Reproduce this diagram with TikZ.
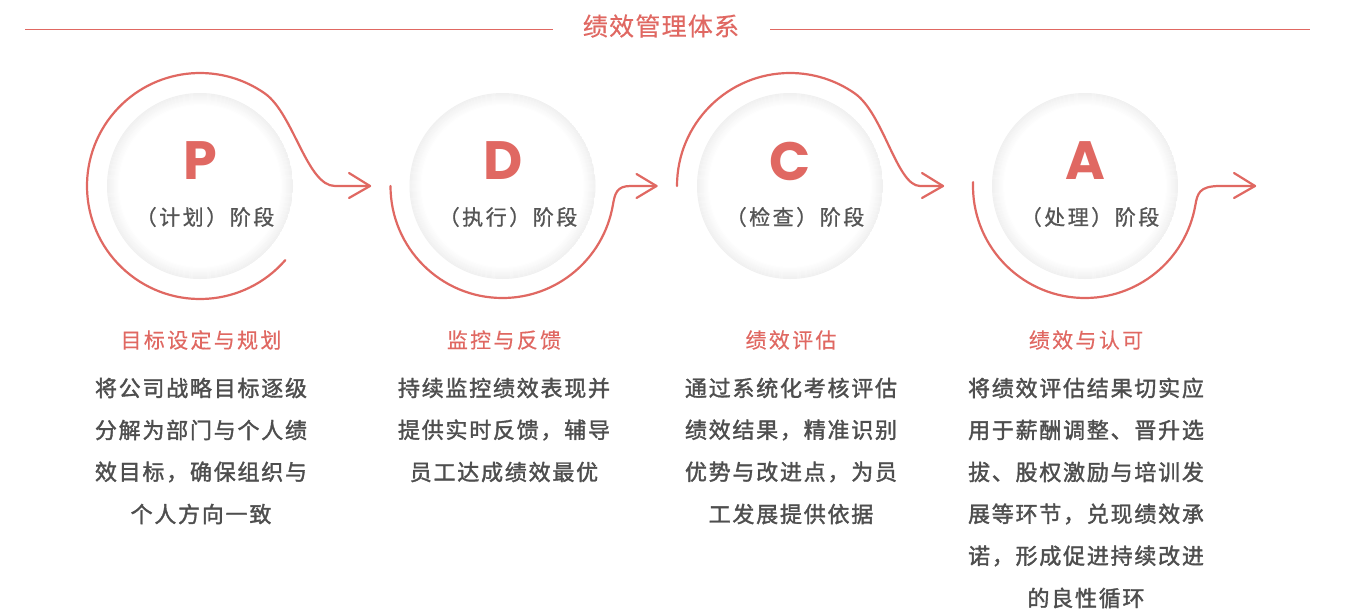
\documentclass[tikz,border=0pt]{standalone}
\usepackage{fontspec}
\usetikzlibrary{calc}
\newfontfamily\cjk{Noto Sans CJK SC}
\newfontfamily\latinf{Poppins}
\definecolor{pdred}{RGB}{224,104,98}
\definecolor{txtgrey}{RGB}{78,78,78}
\definecolor{lblgrey}{RGB}{85,85,85}
\tikzset{
  loopline/.style={draw=pdred, line width=2.2pt, line cap=round, line join=round},
  headtxt/.style={font={\cjk\fontsize{21}{21}\selectfont\addfontfeature{LetterSpace=11,FakeBold=0.4}}, text=pdred, inner sep=0pt},
  bodytxt/.style={font={\cjk\fontsize{22}{22}\selectfont\addfontfeature{LetterSpace=8,FakeBold=1.6}}, text=txtgrey, inner sep=0pt},
  lbltxt/.style={font={\cjk\fontsize{21}{21}\selectfont\addfontfeature{LetterSpace=12,FakeBold=1}}, text=lblgrey, inner sep=0pt},
  lettertxt/.style={font={\latinf\bfseries\fontsize{54}{54}\selectfont}, text=pdred, inner sep=0pt, text depth=0pt},
  ball/.style={circle, minimum size=186pt, inner sep=0pt, fill=white,
    path picture={
      \foreach \i in {0,...,12}{
        \pgfmathsetmacro\k{6*(1-\i/12)}
        \draw[black!\k, line width=1.1pt] (path picture bounding box.center) circle (92.5-\i);
      }
    }},
}
\begin{document}
\begin{tikzpicture}[x=1pt,y=1pt]
\useasboundingbox (0,0) rectangle (1345,-611);
\fill[white] (0,0) rectangle (1345,-611);

% title
\node[font={\cjk\fontsize{25}{25}\selectfont\addfontfeature{LetterSpace=5,FakeBold=0.4}}, text=pdred, inner sep=0pt] (title) at (661,-26) {绩效管理体系};
\coordinate (tl1) at (25,-29);
\coordinate (tl2) at (553,-29);
\coordinate (tr1) at (770,-29);
\coordinate (tr2) at (1310,-29);
\draw[pdred, line width=1pt] (tl1) -- (tl2);
\draw[pdred, line width=1pt] (tr1) -- (tr2);

% circles
\node[ball] (P) at (200,-186) {};
\node[ball] (D) at (502.5,-186) {};
\node[ball] (C) at (790,-186) {};
\node[ball] (A) at (1085,-186) {};

% P loop
\begin{scope}[shift={(P.center)}]
  \draw[loopline] (-41:113) arc[start angle=-41, end angle=-305, radius=113]
     .. controls (93.5,72.5) and (107,0) .. (135,0) -- (170,0);
  \draw[loopline] (149,13) -- (170,0) -- (149,-12);
\end{scope}
% D loop
\begin{scope}[shift={(D.center)}]
  \draw[loopline] (180:112) arc[start angle=180, end angle=350, radius=112]
     .. controls (112.4,-7.6) and (114,0) .. (128,0) -- (154,0);
  \draw[loopline] (134,12) -- (154,0) -- (134,-12);
\end{scope}
% C loop
\begin{scope}[shift={(C.center)}]
  \draw[loopline] (180:113) arc[start angle=180, end angle=55, radius=113]
     .. controls (93.5,72.5) and (107,0) .. (130,0) -- (153,0);
  \draw[loopline] (132,13) -- (153,0) -- (132,-12);
\end{scope}
% A loop
\begin{scope}[shift={(A.center)}]
  \draw[loopline] (178:112) arc[start angle=178, end angle=350, radius=112]
     .. controls (112.4,-7.6) and (114,0) .. (135,0) -- (170,0);
  \draw[loopline] (149,13) -- (170,0) -- (149,-12);
\end{scope}

% letters and labels
\node[lettertxt] (P-l) at (200,-161) {P};
\node[lettertxt] (D-l) at (503,-161) {D};
\node[lettertxt] (C-l) at (790,-161) {C};
\node[lettertxt] (A-l) at (1085,-161) {A};
\node[lbltxt] (P-s) at (205,-217) {（计划）阶段};
\node[lbltxt] (D-s) at (508,-217) {（执行）阶段};
\node[lbltxt] (C-s) at (795,-217) {（检查）阶段};
\node[lbltxt] (A-s) at (1090,-217) {（处理）阶段};

% headings
\node[headtxt] (P-h) at (201,-340) {目标设定与规划};
\node[headtxt] (D-h) at (504,-340) {监控与反馈};
\node[headtxt] (C-h) at (791,-340) {绩效评估};
\node[headtxt] (A-h) at (1086,-340) {绩效与认可};

% bodies
\foreach \t [count=\i from 0] in {将公司战略目标逐级,分解为部门与个人绩,效目标，确保组织与,个人方向一致}
  \node[bodytxt] (P-b\i) at (201,-388-42*\i) {\t};
\foreach \t [count=\i from 0] in {持续监控绩效表现并,提供实时反馈，辅导,员工达成绩效最优}
  \node[bodytxt] (D-b\i) at (504,-388-42*\i) {\t};
\foreach \t [count=\i from 0] in {通过系统化考核评估,绩效结果，精准识别,优势与改进点，为员,工发展提供依据}
  \node[bodytxt] (C-b\i) at (791,-388-42*\i) {\t};
\foreach \t [count=\i from 0] in {将绩效评估结果切实应,用于薪酬调整、晋升选,拔、股权激励与培训发,展等环节，兑现绩效承,诺，形成促进持续改进,的良性循环}
  \node[bodytxt] (A-b\i) at (1086,-388-42*\i) {\t};
\end{tikzpicture}
\end{document}
